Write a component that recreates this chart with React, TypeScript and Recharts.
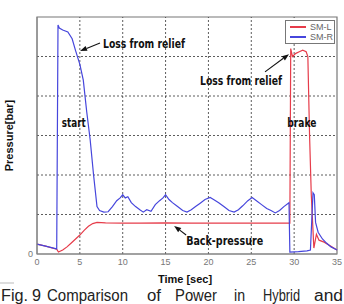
import {
  LineChart,
  Line,
  XAxis,
  YAxis,
  ReferenceArea,
  ReferenceLine,
  ReferenceDot,
} from 'recharts';

// SM-R (blue)
const blueTime = [
  0, 1, 2.3, 2.45, 2.6, 3.0, 3.6, 4.1, 4.5, 5.0, 5.4, 5.8, 6.2, 6.6, 7.0, 7.3, 7.8, 8.3, 8.8,
  9.3, 9.7, 10.0, 10.3, 10.6, 11.0, 11.5, 12.0, 12.4, 12.8, 13.3, 13.8, 14.3, 14.7, 15.0, 15.4,
  15.8, 16.4, 17.0, 17.5, 18.0, 18.5, 19.0, 19.6, 20.2, 20.6, 21.2, 21.8, 22.4, 23.0, 23.5, 24.0,
  24.6, 25.1, 25.6, 26.2, 26.8, 27.3, 27.8, 28.3, 28.8, 29.4, 29.5, 30.5, 31.5, 31.9, 32.2, 32.35,
  32.5, 32.8, 33.3, 33.8, 34.3, 35,
];
const blueValue = [
  0.25, 0.2, 0.13, 5.8, 5.72, 5.67, 5.62, 5.45, 5.15, 4.8, 4.4, 3.6, 2.9, 2.0, 1.2, 1.1, 1.06, 1.07,
  1.2, 1.35, 1.42, 1.5, 1.42, 1.45, 1.3, 1.2, 1.12, 1.06, 1.12, 1.08, 1.25, 1.35, 1.42, 1.5, 1.38,
  1.3, 1.2, 1.1, 1.06, 1.12, 1.2, 1.28, 1.38, 1.43, 1.38, 1.3, 1.2, 1.1, 1.06, 1.12, 1.22, 1.35,
  1.43, 1.35, 1.25, 1.15, 1.1, 1.04, 1.1, 1.2, 1.3, 0.05, 0.06, 0.08, 0.1, 1.55, 1.5, 0.8, 0.55,
  0.38, 0.27, 0.18, 0.1,
];

// SM-L (red)
const redTime = [
  0, 1, 2.3, 2.5, 3.0, 3.5, 4.0, 4.5, 5.0, 5.5, 6.0, 6.5, 7.0, 8, 10, 12, 15, 18, 20, 22, 25, 28,
  29.5, 29.6, 29.8, 30.2, 30.6, 31.0, 31.4, 31.6, 31.8, 32.0, 32.3, 32.6, 32.9, 33.5, 35,
];
const redValue = [
  0.25, 0.2, 0.12, 0.05, 0.1, 0.18, 0.28, 0.38, 0.48, 0.6, 0.7, 0.77, 0.8, 0.79, 0.78, 0.78, 0.79,
  0.78, 0.78, 0.78, 0.78, 0.78, 0.78, 5.2, 5.0, 5.08, 5.12, 5.16, 5.12, 5.0, 3.0, 1.5, 0.15, 0.5,
  0.35, 0.3, 0.1,
];

const xTicks = [0, 5, 10, 15, 20, 25, 30, 35];
const yTicks = [0, 1, 2, 3, 4, 5, 6];

const blueData = blueTime.map((t, i) => ({ t, v: blueValue[i] }));
const redData = redTime.map((t, i) => ({ t, v: redValue[i] }));

const BLUE = '#4646dc';
const RED = '#e63c4a';
const NOTE_FONT = '"Liberation Sans Narrow", "DejaVu Sans Condensed", Arial, sans-serif';

const notes = [
  { text: 'Loss from relief', t: 7.7, v: 5.34, width: 82, anchor: 'start' },
  { text: 'Loss from relief', t: 23.8, v: 4.4, width: 82, anchor: 'middle' },
  { text: 'start', t: 4.3, v: 3.32, width: 24, anchor: 'middle' },
  { text: 'brake', t: 30.9, v: 3.32, width: 29, anchor: 'middle' },
  { text: 'Back-pressure', t: 17.4, v: 0.35, width: 77, anchor: 'start' },
];

const arrows = [
  { from: [7.35, 5.34], to: [5.02, 5.14] },
  { from: [26.6, 4.61], to: [29.4, 5.06] },
  { from: [17.4, 0.48], to: [16.0, 0.71] },
];

function Arrow(p: any) {
  const { x1, y1, x2, y2 } = p;
  const a = Math.atan2(y2 - y1, x2 - x1);
  const L = 7;
  const W = 2.6;
  const bx = x2 - L * Math.cos(a);
  const by = y2 - L * Math.sin(a);
  const px = -Math.sin(a) * W;
  const py = Math.cos(a) * W;
  return (
    <g>
      <line x1={x1} y1={y1} x2={bx} y2={by} stroke="#111" strokeWidth={1.1} />
      <polygon points={`${x2},${y2} ${bx + px},${by + py} ${bx - px},${by - py}`} fill="#111" />
    </g>
  );
}

function LegendBox() {
  const items = [
    { name: 'SM-L', color: RED },
    { name: 'SM-R', color: BLUE },
  ];
  return (
    <div
      style={{
        position: 'absolute',
        left: 285,
        top: 20,
        border: '1px solid #777',
        background: '#fff',
        width: 48,
        padding: '1px 0',
        fontFamily: 'Arial, "Liberation Sans", sans-serif',
        fontSize: 9,
        color: '#666',
        lineHeight: '10px',
      }}
    >
      {items.map((it) => (
        <div key={it.name} style={{ display: 'flex', alignItems: 'center' }}>
          <span style={{ width: 16, height: 1.2, background: it.color, marginLeft: 4, marginRight: 4 }} />
          <span>{it.name}</span>
        </div>
      ))}
    </div>
  );
}

const captionWords = [
  { w: 'Fig.', x: 1, len: 27 },
  { w: '9', x: 32, len: 9 },
  { w: 'Comparison', x: 47, len: 81 },
  { w: 'of', x: 147, len: 14 },
  { w: 'Power', x: 175, len: 42 },
  { w: 'in', x: 234, len: 11 },
  { w: 'Hybrid', x: 263, len: 37 },
  { w: 'and', x: 314, len: 29 },
];

export default function App() {
  return (
    <div style={{ position: 'absolute', left: 0, top: 0, width: 344, height: 304, background: '#fff' }}>
      <LineChart width={344} height={304} margin={{ top: 17, right: 7, bottom: 0, left: 0 }}>
        {xTicks.slice(1, -1).map((t) => (
          <ReferenceLine key={'gx' + t} x={t} stroke="#333" strokeDasharray="2 2" strokeWidth={0.8} />
        ))}
        {yTicks.slice(1, -1).map((v) => (
          <ReferenceLine key={'gy' + v} y={v} stroke="#333" strokeDasharray="2 2" strokeWidth={0.8} />
        ))}
        <XAxis
          dataKey="t"
          type="number"
          domain={[0, 35]}
          ticks={xTicks}
          height={50}
          tickSize={3}
          tickLine={false}
          axisLine={{ stroke: '#888' }}
          tick={{ fontSize: 9, fill: '#777', fontFamily: 'Arial, sans-serif' }}
          allowDuplicatedCategory={false}
          label={{
            content: (props: any) => {
              const vb = props.viewBox;
              return (
                <text
                  x={vb.x + vb.width / 2 - 2}
                  y={vb.y + 29}
                  textAnchor="middle"
                  fontSize={11}
                  fontWeight="bold"
                  fill="#111"
                  fontFamily="Arial, sans-serif"
                >
                  Time [sec]
                </text>
              );
            },
          }}
        />
        <YAxis
          type="number"
          domain={[0, 6]}
          ticks={yTicks}
          width={37}
          tickLine={false}
          tickSize={2}
          axisLine={{ stroke: '#888' }}
          tickFormatter={(v: number) => (v === 0 ? '0' : '')}
          tick={{ fontSize: 9, fill: '#777', fontFamily: 'Arial, sans-serif' }}
          label={{
            content: (props: any) => {
              const vb = props.viewBox;
              const cx = 9;
              const cy = vb.y + vb.height / 2;
              return (
                <text
                  x={cx}
                  y={cy}
                  transform={`rotate(-90 ${cx} ${cy})`}
                  textAnchor="middle"
                  dominantBaseline="central"
                  fontSize={11}
                  fontWeight="bold"
                  fill="#111"
                  fontFamily="Arial, sans-serif"
                >
                  Pressure[bar]
                </text>
              );
            },
          }}
        />
        <ReferenceArea x1={0} x2={35} y1={0} y2={6} fill="none" stroke="#777" strokeWidth={1.2} />
        <Line
          data={redData}
          dataKey="v"
          name="SM-L"
          stroke={RED}
          strokeWidth={1.2}
          dot={false}
          isAnimationActive={false}
        />
        <Line
          data={blueData}
          dataKey="v"
          name="SM-R"
          stroke={BLUE}
          strokeWidth={1.2}
          dot={false}
          isAnimationActive={false}
        />
        {arrows.map((a, i) => (
          <ReferenceLine
            key={'a' + i}
            segment={[
              { x: a.from[0], y: a.from[1] },
              { x: a.to[0], y: a.to[1] },
            ]}
            shape={Arrow}
          />
        ))}
        {notes.map((n, i) => (
          <ReferenceDot
            key={'n' + i}
            x={n.t}
            y={n.v}
            r={0}
            shape={(p: any) => (
              <text
                x={p.cx}
                y={p.cy}
                textAnchor={n.anchor as any}
                dominantBaseline="central"
                fontSize={13}
                fontWeight="bold"
                fill="#111"
                fontFamily={NOTE_FONT}
                textLength={n.width}
                lengthAdjust="spacingAndGlyphs"
              >
                {n.text}
              </text>
            )}
          />
        ))}
      </LineChart>
      <LegendBox />
      <svg width={344} height={304} style={{ position: 'absolute', left: 0, top: 0, pointerEvents: 'none' }}>
        <line x1={0} y1={283} x2={14} y2={283} stroke="#bbb" strokeWidth={1} />
        {captionWords.map((c) => (
          <text
            key={c.w}
            x={c.x}
            y={301}
            fontSize={16}
            fill="#222"
            fontFamily='Arial, "Liberation Sans", sans-serif'
            textLength={c.len}
            lengthAdjust="spacingAndGlyphs"
          >
            {c.w}
          </text>
        ))}
      </svg>
    </div>
  );
}
